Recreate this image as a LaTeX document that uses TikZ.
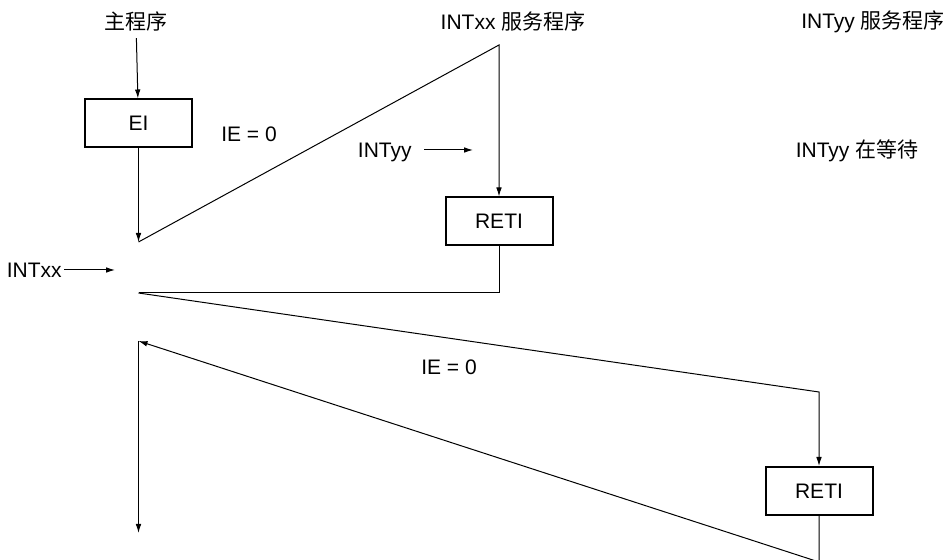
\documentclass[tikz,border=0pt]{standalone}
\usepackage{fontspec}
\setmainfont{Liberation Sans}
\newfontfamily\cjk{Noto Sans CJK SC}
\usetikzlibrary{arrows.meta,positioning}

\begin{document}
\begin{tikzpicture}[
  x=0.5pt,y=-0.5pt,
  font=\fontsize{10.5pt}{12.5pt}\selectfont,
  box/.style={draw,line width=1pt,minimum width=53.5pt,minimum height=24pt,inner sep=0pt},
  lbl/.style={inner sep=1pt},
  wire/.style={line width=0.5pt},
  arr/.style={wire,-{Latex[length=4.5pt,width=2.8pt]}}
]
\useasboundingbox (0,0) rectangle (950,560);
% labels
\node[lbl] (main) at (136,22) {\cjk 主程序};
\node[lbl] (xxsvc) at (513,22) {INTxx {\cjk 服务程序}};
\node[lbl] (yysvc) at (873,22) {INTyy {\cjk 服务程序}};
\node[lbl] (yywait) at (857,151) {INTyy {\cjk 在等待}};
\node[lbl] (ie1) at (249,134) {IE = 0};
\node[lbl] (ie2) at (449,367) {IE = 0};
\node[lbl,anchor=east] (intxx) at (64,270) {INTxx};
\node[lbl,anchor=east] (intyy) at (414,152) {INTyy};
% boxes
\node[box] (ei) at (138.5,123.5) {EI};
\node[box] (reti1) at (499,221.5) {RETI};
\node[box] (reti2) at (819,491) {RETI};
% corner points
\coordinate (p1) at (138.5,242);
\coordinate (xxtop) at (499,45);
\coordinate (p2) at (138.5,293);
\coordinate (yytop) at (819,392);
\coordinate (yyend) at (819,562);
\coordinate (p3) at (138.5,341);
\coordinate (p4) at (138.5,533);
\coordinate (intxxend) at (115,270);
\coordinate (intyyend) at (473,150);
% flow
\draw[arr,shorten <=2pt] (main) -- (ei);
\draw[arr] (ei) -- (p1);
\draw[arr] (p1) -- (xxtop) -- (reti1);
\draw[wire] (reti1) |- (p2);
\draw[arr] (p2) -- (yytop) -- (reti2);
\draw[arr] (reti2) -- (yyend) -- (p3);
\draw[arr] (p3) -- (p4);
\draw[arr] (intxx) -- (intxxend);
\draw[arr,shorten <=5pt] (intyy.east|-intyyend) -- (intyyend);
\end{tikzpicture}
\end{document}
